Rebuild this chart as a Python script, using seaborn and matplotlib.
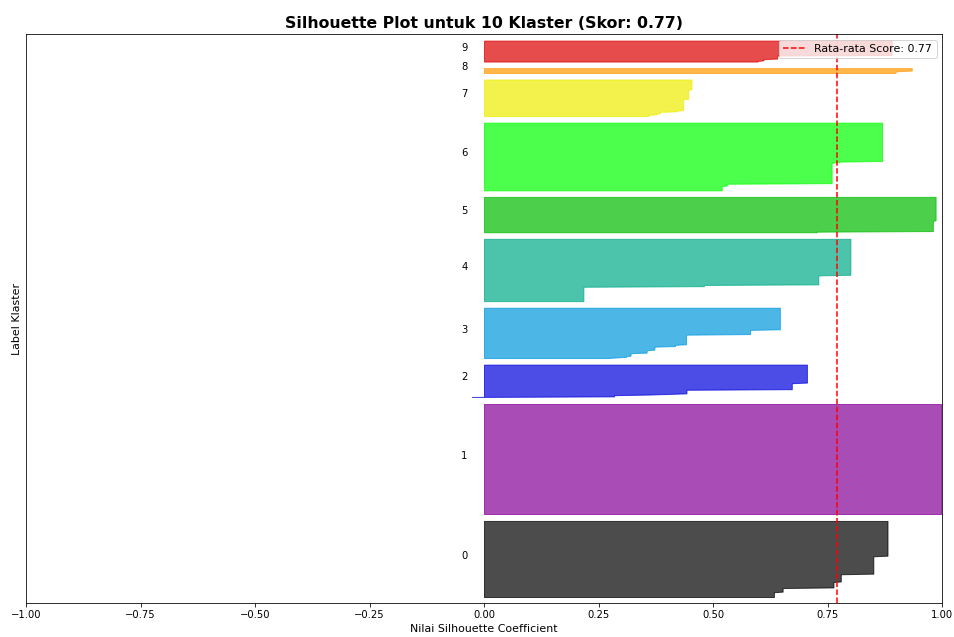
import numpy as np
import matplotlib
matplotlib.use("Agg")
import matplotlib.pyplot as plt
import seaborn as sns

# silhouette values per cluster (value, number of samples)
c0_vals = [0.633, 0.652, 0.763, 0.779, 0.850, 0.881]
c0_cnts = [9, 7, 10, 13, 30, 59]
c1_vals = [0.998]
c1_cnts = [186]
c2_vals = [-0.026, 0.284, 0.36, 0.40, 0.442, 0.672, 0.705]
c2_cnts = [1, 3, 1, 1, 7, 11, 31]
c3_vals = [0.27, 0.29, 0.31, 0.32, 0.355, 0.372, 0.417, 0.441, 0.581, 0.646]
c3_cnts = [1, 1, 2, 5, 5, 6, 3, 17, 8, 37]
c4_vals = [0.217, 0.480, 0.730, 0.800]
c4_cnts = [25, 3, 16, 61]
c5_vals = [0.726, 0.980, 0.986]
c5_cnts = [2, 18, 40]
c6_vals = [0.519, 0.53, 0.759, 0.775, 0.869]
c6_cnts = [8, 4, 35, 2, 65]
c7_vals = [0.359, 0.377, 0.384, 0.421, 0.435, 0.446, 0.453]
c7_cnts = [3, 2, 3, 2, 19, 16, 17]
c8_vals = [0.898, 0.905, 0.934]
c8_cnts = [3, 1, 5]
c9_vals = [0.597, 0.61, 0.64, 0.89]
c9_cnts = [2, 3, 6, 25]

cluster_vals = [c0_vals, c1_vals, c2_vals, c3_vals, c4_vals,
                c5_vals, c6_vals, c7_vals, c8_vals, c9_vals]
cluster_cnts = [c0_cnts, c1_cnts, c2_cnts, c3_cnts, c4_cnts,
                c5_cnts, c6_cnts, c7_cnts, c8_cnts, c9_cnts]
avg_score = 0.77
n_clusters = 10

sns.set_style("ticks", {"axes.edgecolor": "black", "text.color": "black",
                        "xtick.color": "black", "ytick.color": "black",
                        "axes.labelcolor": "black"})
plt.rcParams["font.family"] = ["DejaVu Sans"]

fig = plt.figure(figsize=(954 / 72, 637 / 72), dpi=72)
ax = fig.add_axes([26 / 954, 1 - 603 / 637, 916 / 954, 569 / 637])

n_total = sum(sum(c) for c in cluster_cnts)
palette = sns.color_palette([plt.cm.nipy_spectral(float(i) / n_clusters) for i in range(n_clusters)])

y_lower = 10
for i in range(n_clusters):
    sil = np.repeat(cluster_vals[i], cluster_cnts[i])
    sil.sort()
    size_i = sil.shape[0]
    y_upper = y_lower + size_i
    color = palette[i]
    ax.fill_betweenx(np.arange(y_lower, y_upper), 0, sil,
                     facecolor=color, edgecolor=color, alpha=0.7)
    ax.text(-0.05, y_lower + 0.5 * size_i, str(i))
    y_lower = y_upper + 10

ax.axvline(x=avg_score, color="red", linestyle="--",
           label=f"Rata-rata Score: {avg_score:.2f}")

ax.set_title(f"Silhouette Plot untuk {n_clusters} Klaster (Skor: {avg_score:.2f})",
             fontsize=15.7, fontweight="bold")
ax.set_xlabel("Nilai Silhouette Coefficient", fontsize=11)
ax.set_ylabel("Label Klaster", fontsize=11)
ax.set_xlim([-1, 1])
ax.set_ylim([0, n_total + (n_clusters + 1) * 10])
ax.set_yticks([])
ax.legend(loc="upper right", fontsize=11)

fig.savefig("out.png", dpi=72)
